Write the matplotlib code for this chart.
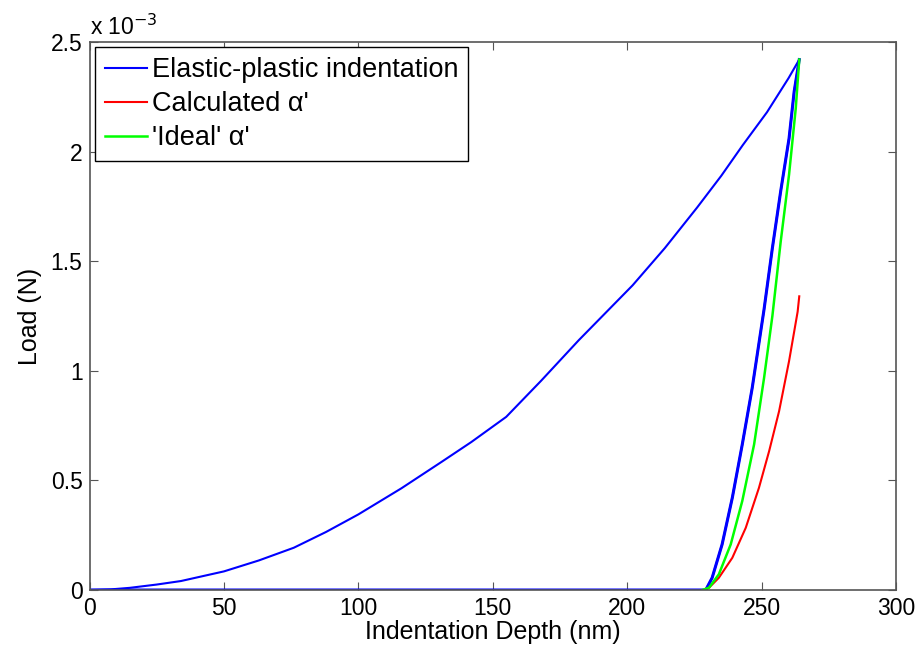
import numpy as np
import matplotlib.pyplot as plt

plt.rcParams['font.family'] = ['Liberation Sans', 'DejaVu Sans']

# depth in nm, load in units of 1e-3 N
load_depth = [0, 8, 15, 25, 34, 50, 63, 76, 88, 100, 116, 131, 142, 155, 168, 182,
              192, 202, 214, 226, 235, 243, 252, 260, 264]
load_force = [0, 0.003, 0.01, 0.025, 0.041, 0.085, 0.135, 0.193, 0.265, 0.345, 0.464,
              0.585, 0.675, 0.79, 0.955, 1.14, 1.265, 1.39, 1.56, 1.745, 1.89, 2.03,
              2.18, 2.335, 2.42]

unload_depth = [264, 262.1, 260.2, 257.1, 254.0, 250.9, 246.5, 242.8, 239.1, 235.3,
                231.6, 229.2, 0]
unload_force = [2.42, 2.274, 2.06, 1.82, 1.56, 1.28, 0.922, 0.664, 0.421, 0.208,
                0.056, 0, 0]

calc_depth = [228.5, 230.4, 234.1, 239.1, 244.1, 249.0, 252.8, 256.5, 260.2, 263.4, 264]
calc_force = [0, 0.01, 0.056, 0.147, 0.284, 0.466, 0.634, 0.816, 1.044, 1.27, 1.34]

ideal_depth = [227.9, 230.4, 234.1, 238.5, 242.8, 247.2, 250.9, 254.0, 257.1, 260.2,
               262.7, 264]
ideal_force = [0, 0.01, 0.072, 0.208, 0.406, 0.664, 0.967, 1.25, 1.59, 1.895, 2.198, 2.42]

xticks = [0, 50, 100, 150, 200, 250, 300]
yticks = [0, 0.5, 1, 1.5, 2, 2.5]

fig = plt.figure(figsize=(9.21, 6.55), dpi=100)
ax = fig.add_axes([0.0972, 0.0992, 0.8757, 0.8366])

ax.plot(load_depth + unload_depth, load_force + unload_force, color=(0, 0, 1), lw=1.5,
        label='Elastic-plastic indentation')
ax.plot(unload_depth, unload_force, color=(0, 0, 1), lw=2.2)
ax.plot(calc_depth, calc_force, color=(1, 0, 0), lw=1.5, label="Calculated \u03b1'")
ax.plot(ideal_depth, ideal_force, color=(0, 1, 0), lw=1.8, label="'Ideal' \u03b1'")

ax.set_xlim(0, 300)
ax.set_ylim(0, 2.5)
ax.set_xticks(xticks)
ax.set_yticks(yticks)
ax.set_yticklabels(['%g' % v for v in yticks])
ax.tick_params(direction='in', top=True, right=True, labelsize=16.5, length=6,
               color='#555555', pad=5)
for s in ax.spines.values():
    s.set_color('#555555')
    s.set_linewidth(1.2)

ax.set_xlabel('Indentation Depth (nm)', fontsize=18, labelpad=0)
ax.set_ylabel('Load (N)', fontsize=18, labelpad=6)
ax.text(0.0, 1.004, 'x 10$^{-3}$', transform=ax.transAxes, fontsize=16.5,
        ha='left', va='bottom')

leg = ax.legend(loc='upper left', fontsize=19.5, fancybox=False, edgecolor='black',
                framealpha=1, borderaxespad=0.2, handlelength=1.55, handletextpad=0.2,
                labelspacing=0.3, borderpad=0.36)
leg.get_frame().set_linewidth(1.0)

fig.savefig('out.png', dpi=100)
